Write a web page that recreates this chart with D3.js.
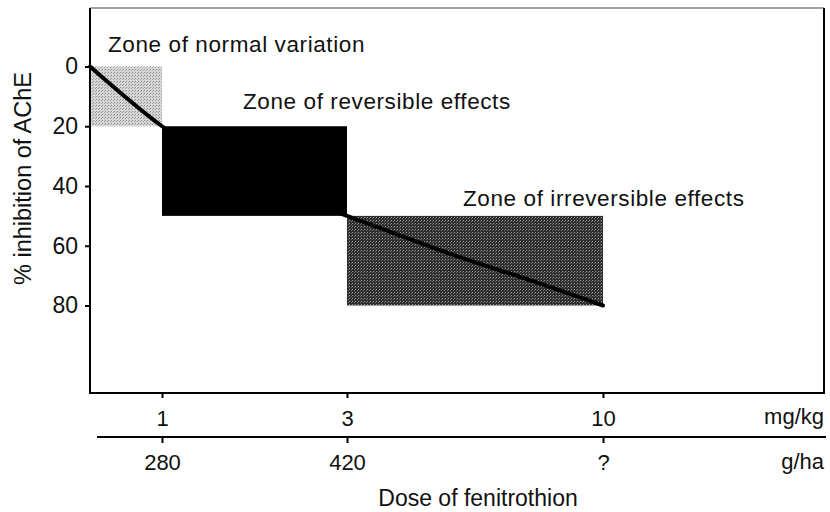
<!doctype html>
<html>
<head>
<meta charset="utf-8">
<title>AChE inhibition vs dose of fenitrothion</title>
<script src="https://cdn.jsdelivr.net/npm/d3@7"></script>
<style>
  html, body { margin: 0; padding: 0; background: #fff; }
  svg text { font-family: "Liberation Sans", Arial, sans-serif; fill: #111; }
</style>
</head>
<body>
<div id="chart"></div>
<script>
  // data
  const zoneNames = ['Zone of normal variation', 'Zone of reversible effects', 'Zone of irreversible effects'];
  const zoneDoseFrom = [0, 1, 3];
  const zoneDoseTo = [1, 3, 10];
  const zoneInhFrom = [0, 20, 50];
  const zoneInhTo = [20, 50, 80];

  const curveDose = [0, 1, 3, 4, 6, 8, 10];
  const curveInh = [0, 20, 50, 54.5, 63.5, 71.5, 80];

  const yTicks = [0, 20, 40, 60, 80];
  const mgkgTicks = [1, 3, 10];
  const ghaLabels = ['280', '420', '?'];

  const width = 830, height = 512;
  const fontFamily = '"Liberation Sans", Arial, sans-serif';

  // the dose axis is not proportional, so a piecewise scale
  const x = d3.scaleLinear()
    .domain([0, 1, 3, 10])
    .range([90, 162, 347, 603]);

  const y = d3.scaleLinear()
    .domain([0, 80])
    .range([66.5, 305.5]);

  const frame = { left: 90, right: 824, top: 8, bottom: 393 };

  const svg = d3.select('#chart').append('svg')
    .attr('width', width)
    .attr('height', height);

  // stipple textures like the scanned original
  const defs = svg.append('defs');
  const light = defs.append('pattern')
    .attr('id', 'stipple-light')
    .attr('width', 3).attr('height', 3)
    .attr('patternUnits', 'userSpaceOnUse');
  light.append('rect').attr('width', 3).attr('height', 3).attr('fill', '#d6d6d6');
  light.append('rect').attr('x', 0).attr('y', 0).attr('width', 1).attr('height', 1).attr('fill', '#8a8a8a');
  light.append('rect').attr('x', 2).attr('y', 1).attr('width', 1).attr('height', 1).attr('fill', '#a0a0a0');

  const dark = defs.append('pattern')
    .attr('id', 'stipple-dark')
    .attr('width', 3).attr('height', 3)
    .attr('patternUnits', 'userSpaceOnUse');
  dark.append('rect').attr('width', 3).attr('height', 3).attr('fill', '#2e2e2e');
  dark.append('rect').attr('x', 1).attr('y', 1).attr('width', 1).attr('height', 1).attr('fill', '#9a9a9a');
  dark.append('rect').attr('x', 0).attr('y', 2).attr('width', 1).attr('height', 1).attr('fill', '#6a6a6a');

  const zoneFills = ['url(#stipple-light)', '#000', 'url(#stipple-dark)'];

  // zones
  svg.selectAll('rect.zone')
    .data(zoneNames)
    .join('rect')
    .attr('class', 'zone')
    .attr('x', (d, i) => x(zoneDoseFrom[i]))
    .attr('y', (d, i) => y(zoneInhFrom[i]))
    .attr('width', (d, i) => x(zoneDoseTo[i]) - x(zoneDoseFrom[i]))
    .attr('height', (d, i) => y(zoneInhTo[i]) - y(zoneInhFrom[i]))
    .attr('fill', (d, i) => zoneFills[i]);

  // response curve
  const line = d3.line()
    .x(d => x(d[0]))
    .y(d => y(d[1]))
    .curve(d3.curveMonotoneX);

  svg.append('path')
    .datum(d3.zip(curveDose, curveInh))
    .attr('d', line)
    .attr('fill', 'none')
    .attr('stroke', '#000')
    .attr('stroke-width', 4)
    .attr('stroke-linecap', 'round');

  // zone labels
  const labelPos = [[108, 52], [243, 109], [463, 206]];
  svg.selectAll('text.zone-label')
    .data(zoneNames)
    .join('text')
    .attr('class', 'zone-label')
    .attr('x', (d, i) => labelPos[i][0])
    .attr('y', (d, i) => labelPos[i][1])
    .attr('font-size', 22.5)
    .attr('letter-spacing', 0.6)
    .text(d => d);

  // frame
  svg.append('line')
    .attr('x1', frame.left).attr('x2', frame.right)
    .attr('y1', frame.top).attr('y2', frame.top)
    .attr('stroke', '#444').attr('stroke-width', 1.2);
  svg.append('path')
    .attr('d', `M${frame.left},${frame.top}V${frame.bottom}H${frame.right}V${frame.top}`)
    .attr('fill', 'none')
    .attr('stroke', '#000')
    .attr('stroke-width', 2);

  // y axis
  const yAxis = svg.append('g')
    .attr('transform', `translate(${frame.left},0)`)
    .call(d3.axisLeft(y).tickValues(yTicks).tickSize(5).tickPadding(7));
  yAxis.select('.domain').remove();
  yAxis.selectAll('line').attr('stroke', '#000').attr('stroke-width', 2);
  yAxis.selectAll('text')
    .attr('font-size', 23)
    .attr('fill', '#111')
    .style('font-family', fontFamily);

  svg.append('text')
    .attr('transform', `translate(31,${(70 + 287) / 2}) rotate(-90)`)
    .attr('text-anchor', 'middle')
    .attr('font-size', 23.5)
    .text('% inhibition of AChE');

  // mg/kg axis on the frame bottom
  const xAxisTop = svg.append('g')
    .attr('transform', `translate(0,${frame.bottom})`)
    .call(d3.axisBottom(x).tickValues(mgkgTicks).tickSize(5).tickPadding(12).tickFormat(d3.format('d')));
  xAxisTop.select('.domain').remove();
  xAxisTop.selectAll('line').attr('stroke', '#000').attr('stroke-width', 2);
  xAxisTop.selectAll('text')
    .attr('font-size', 22)
    .attr('fill', '#111')
    .style('font-family', fontFamily);

  svg.append('text')
    .attr('x', 824).attr('y', 424)
    .attr('text-anchor', 'end')
    .attr('font-size', 22)
    .text('mg/kg');

  // g/ha axis below
  const lowerY = 437;
  svg.append('line')
    .attr('x1', 97).attr('x2', 826)
    .attr('y1', lowerY).attr('y2', lowerY)
    .attr('stroke', '#000').attr('stroke-width', 2);

  const xAxisLow = svg.append('g')
    .attr('transform', `translate(0,${lowerY})`)
    .call(d3.axisBottom(x).tickValues(mgkgTicks).tickSize(6).tickPadding(11)
      .tickFormat((d, i) => ghaLabels[i]));
  xAxisLow.select('.domain').remove();
  xAxisLow.selectAll('line').attr('stroke', '#000').attr('stroke-width', 2);
  xAxisLow.selectAll('text')
    .attr('font-size', 22)
    .attr('fill', '#111')
    .style('font-family', fontFamily);

  svg.append('text')
    .attr('x', 824).attr('y', 469)
    .attr('text-anchor', 'end')
    .attr('font-size', 22)
    .text('g/ha');

  svg.append('text')
    .attr('x', 478).attr('y', 506)
    .attr('text-anchor', 'middle')
    .attr('font-size', 23)
    .text('Dose of fenitrothion');
</script>
</body>
</html>
